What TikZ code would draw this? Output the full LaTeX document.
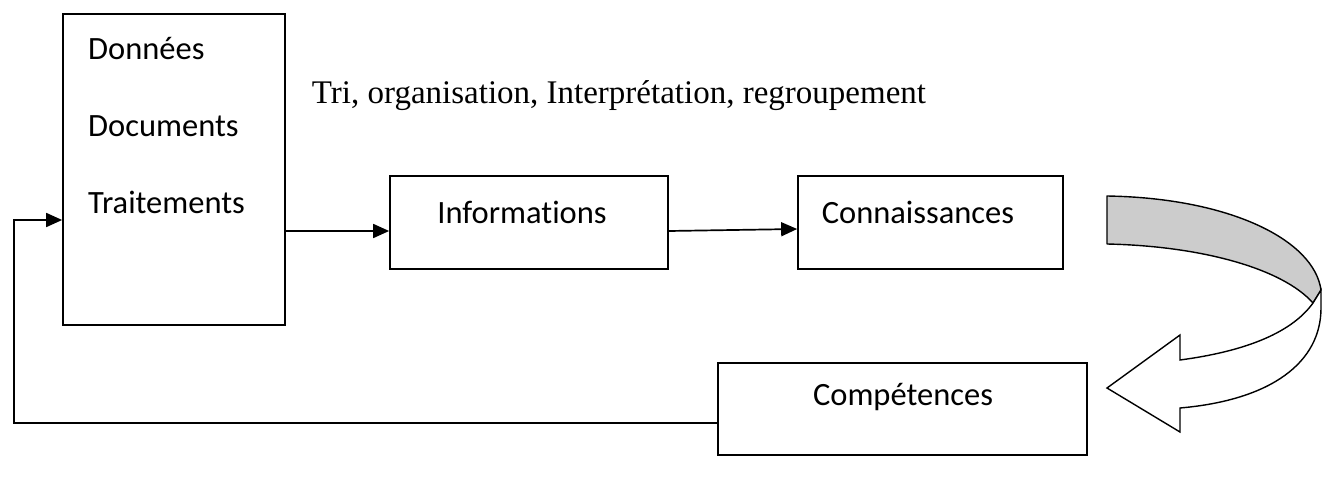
\documentclass[tikz,border=0pt]{standalone}
\usepackage{fontspec}
\setmainfont[Ligatures=NoCommon]{Carlito}
\newfontfamily\timesfont{Liberation Serif}
\usetikzlibrary{arrows.meta}
\tikzset{box/.style={draw,line width=1.7pt,rectangle,inner sep=0pt},
  lbl/.style={font=\fontsize{32.5}{38}\selectfont},
  flow/.style={line width=1.7pt,-{Triangle[length=16pt,width=14pt]}}}

\begin{document}
\begin{tikzpicture}[x=1pt,y=-1pt]
  \useasboundingbox (0,0) rectangle (1323,484);
  % boxes
  \node[box,minimum width=222pt,minimum height=311pt] (don) at (174,169.5) {};
  \node[box,minimum width=278pt,minimum height=93pt] (inf) at (529,222.5) {};
  \node[box,minimum width=265pt,minimum height=93pt] (con) at (930.5,222.5) {};
  \node[box,minimum width=369pt,minimum height=92pt] (comp) at (902.5,409) {};
  % texts
  \node[lbl,anchor=west,inner sep=0pt] (t1) at (88,49) {Données};
  \node[lbl,anchor=west,inner sep=0pt] (t2) at (88,126) {Documents};
  \node[lbl,anchor=west,inner sep=0pt] (t3) at (88,202) {Traitements};
  \node[lbl] (t4) at (522,212) {Informations};
  \node[lbl] (t5) at (918,212) {Connaissances};
  \node[lbl] (t6) at (903,397) {Compétences};
  \node[font=\timesfont\fontsize{33}{38}\selectfont] (tri) at (619,96) {Tri, organisation, Interprétation, regroupement};
  % arrows
  \draw[flow] (don.east |- 0,231) -- (inf.west |- 0,231);
  \draw[flow] (inf.east |- 0,231) -- (con.west |- 0,229);
  \coordinate (ret) at (14,423);
  \draw[flow] (comp.west |- ret) -- (ret) -- (14,220) -- (don.west |- 0,220);
  % curved arrow
  \draw[line width=1.4pt,fill=black!20,line join=round]
    (1107,196) .. controls (1230,198) and (1314,240) .. (1321,290)
    -- (1313,303) .. controls (1282,268) and (1200,246) .. (1107,244) -- cycle;
  \draw[line width=1.4pt,fill=white,line join=miter]
    (1313,303) .. controls (1290,335) and (1240,352) .. (1180,360)
    -- (1180,335) -- (1107,388) -- (1180,432) -- (1180,408)
    .. controls (1272,400) and (1321,362) .. (1321,308) -- (1321,290) -- cycle;
\end{tikzpicture}
\end{document}
